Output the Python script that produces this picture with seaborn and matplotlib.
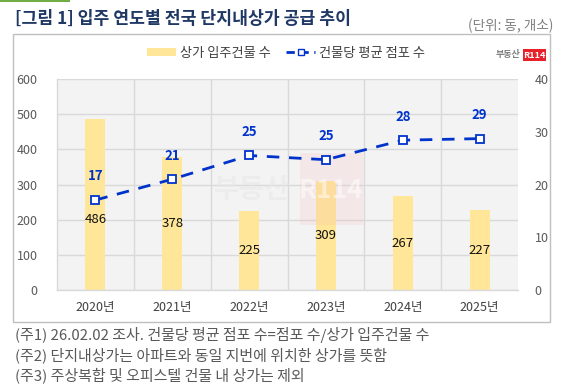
import matplotlib
matplotlib.use("Agg")
import matplotlib.pyplot as plt
import seaborn as sns
import pandas as pd
from matplotlib.patches import Rectangle, Patch
from matplotlib.lines import Line2D

years = ["2020년", "2021년", "2022년", "2023년", "2024년", "2025년"]
buildings = [486, 378, 225, 309, 267, 227]
avg_stores = [17.05, 21.0, 25.5, 24.7, 28.4, 28.7]
avg_labels = ["17", "21", "25", "25", "28", "29"]
left_ticks = [0, 100, 200, 300, 400, 500, 600]
right_ticks = [0, 10, 20, 30, 40]

sns.set_theme(style="white")
plt.rcParams["font.family"] = ["Noto Sans CJK KR", "DejaVu Sans"]

df = pd.DataFrame({"year": years, "buildings": buildings, "avg": avg_stores})

W, H = 580, 388
def fx(x): return x / W
def fy(y): return 1 - y / H

fig = plt.figure(figsize=(5.8, 3.88), dpi=100)
ax = fig.add_axes([fx(57), fy(290), (518-57)/W, (290-79)/H])
ax.set_facecolor("#F3F3F3")

BAR = "#FFE699"
BLUE = "#0033CC"
GRID = "#D9D9D9"

sns.barplot(data=df, x="year", y="buildings", ax=ax, color=BAR, width=0.26,
            saturation=1, edgecolor="none", zorder=2)
ax.set_ylim(0, 600)
ax.set_xlim(-0.5, len(years)-0.5)
ax.set_yticks(left_ticks)
ax.set_xlabel("")
ax.set_ylabel("")
ax.yaxis.grid(True, color=GRID, linewidth=1, zorder=0)
ax.set_axisbelow(True)
for b in [i + 0.5 for i in range(len(years)-1)]:
    ax.axvline(b, color=GRID, linewidth=1, zorder=0.5)
for s in ["top", "right"]:
    ax.spines[s].set_visible(False)
ax.spines["left"].set_color(GRID)
ax.spines["bottom"].set_color(GRID)
ax.spines["left"].set_linewidth(1)
ax.spines["bottom"].set_linewidth(1)
ax.set_xticks(range(len(years)))
ax.set_xticklabels(years)
ax.set_xticks([i - 0.5 for i in range(len(years)+1)], minor=True)
ax.tick_params(axis="x", which="major", length=0, labelsize=9, colors="#404040", pad=8)
ax.tick_params(axis="x", which="minor", length=6, color=GRID, width=1, direction="out")
ax.tick_params(axis="y", length=0, labelsize=9, colors="#595959", pad=14)

# watermark (behind line, over bars)
ax.text(fx(252), fy(190), "부동산", transform=fig.transFigure, fontsize=20,
        fontweight="bold", color="#E8E8E8", alpha=0.55, va="center", ha="center", zorder=1)
ax.add_patch(Rectangle((fx(300), fy(225)), (363-300)/W, (225-153)/H,
                       transform=fig.transFigure, facecolor="#F5B5B8", alpha=0.18,
                       edgecolor="none", zorder=3))
ax.text(fx(331), fy(190), "R114", transform=fig.transFigure, fontsize=19,
        fontweight="bold", color="white", alpha=0.5, va="center", ha="center", zorder=3)

for i, v in enumerate(buildings):
    ax.text(i, min(v/2, 200), f"{v}", ha="center", va="center", fontsize=9.5,
            color="#111111", zorder=4)

ax2 = ax.twinx()
sns.pointplot(data=df, x="year", y="avg", ax=ax2, color=BLUE, markers="s",
              linestyles="--", markersize=5.5, markerfacecolor="white",
              markeredgecolor=BLUE, markeredgewidth=1.3, linewidth=2.0, zorder=5)
ax2.set_ylim(0, 40)
ax2.set_xlim(-0.5, len(years)-0.5)
ax2.set_yticks(right_ticks)
ax2.set_ylabel("")
ax2.set_xlabel("")
for line in ax2.lines:
    line.set_dashes([4.5, 3.5])
    line.set_zorder(5)
for s in ["top", "right", "left", "bottom"]:
    ax2.spines[s].set_visible(False)
ax2.tick_params(axis="y", length=0, labelsize=9, colors="#595959", pad=12)
ax2.grid(False)
for i, (v, lab) in enumerate(zip(avg_stores, avg_labels)):
    ax2.annotate(lab, (i, v), xytext=(0, 12), textcoords="offset points",
                 ha="center", va="bottom", fontsize=9.5, fontweight="bold",
                 color=BLUE, zorder=6)

# outer box
fig.patches.append(Rectangle((fx(13), fy(322)), (550-13)/W, (322-34)/H,
                             transform=fig.transFigure, fill=False,
                             edgecolor="#BFBFBF", linewidth=1))
# green accent
fig.patches.append(Rectangle((0, fy(2)), 70/W, 2/H, transform=fig.transFigure,
                             facecolor="#70AD47", edgecolor="none"))

fig.text(fx(15), fy(19), "[그림 1] 입주 연도별 전국 단지내상가 공급 추이",
         fontsize=12.4, fontweight="bold", color="#1F3864", va="center", ha="left")
fig.text(fx(553), fy(26), "(단위: 동, 개소)", fontsize=9.8, color="#7F7F7F",
         va="center", ha="right")

handles = [Patch(facecolor=BAR, edgecolor="none"),
           Line2D([0], [0], color=BLUE, linestyle="--", dashes=[3, 2], linewidth=2,
                  marker="s", markersize=5, markerfacecolor="white",
                  markeredgecolor=BLUE)]
fig.legend(handles, ["상가 입주건물 수", "건물당 평균 점포 수"], loc="center",
           bbox_to_anchor=(fx(286), fy(53)), ncol=2, frameon=False,
           fontsize=9.5, handlelength=2.2, handleheight=0.5, columnspacing=1.2,
           handletextpad=0.3, labelcolor="#404040")

# logo
fig.text(fx(520), fy(55), "부동산", fontsize=6.5, fontweight="bold", color="#7F7F7F",
         va="center", ha="right")
fig.patches.append(Rectangle((fx(523), fy(61)), 23/W, 12/H, transform=fig.transFigure,
                             facecolor="#E8202A", edgecolor="none"))
fig.text(fx(534.5), fy(55), "R114", fontsize=6.5, fontweight="bold", color="white",
         va="center", ha="center")

notes = ["(주1) 26.02.02 조사. 건물당 평균 점포 수=점포 수/상가 입주건물 수",
         "(주2) 단지내상가는 아파트와 동일 지번에 위치한 상가를 뜻함",
         "(주3) 주상복합 및 오피스텔 건물 내 상가는 제외"]
for k, n in enumerate(notes):
    fig.text(fx(15), fy(335 + 20*k), n, fontsize=10.8, color="#595959",
             va="center", ha="left")

fig.savefig("out.png", dpi=100)
